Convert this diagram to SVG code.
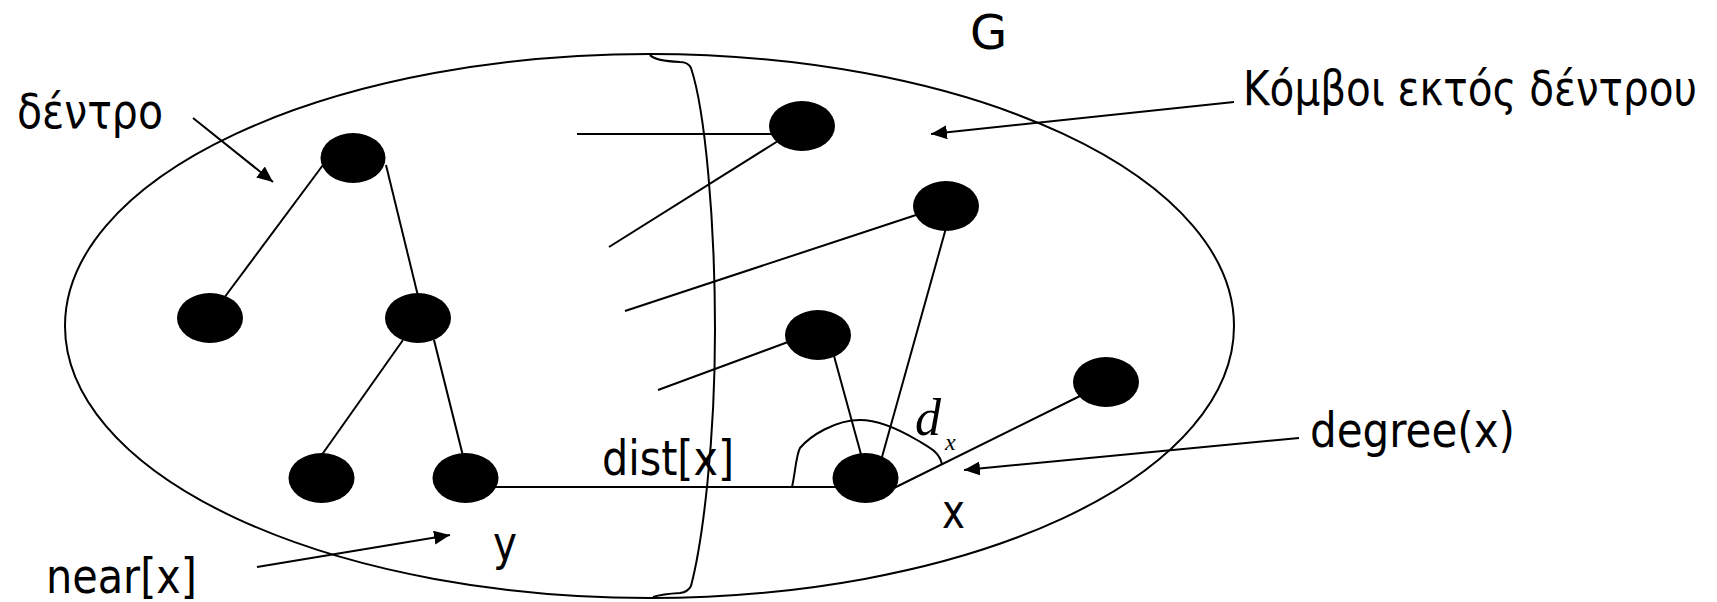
<svg xmlns="http://www.w3.org/2000/svg" width="1717" height="602" viewBox="0 0 1717 602">
  <style>
    .edge { stroke: #000; stroke-width: 2; fill: none; }
    .node { fill: #000; }
    .lbl { font-family: "DejaVu Sans", "Liberation Sans", sans-serif; font-size: 48px; fill: #000; }
    .math { font-family: "Liberation Serif", "DejaVu Serif", serif; font-style: italic; fill: #000; }
  </style>
  <defs>
    <marker id="head" markerUnits="userSpaceOnUse" markerWidth="18" markerHeight="16" refX="16" refY="7" orient="auto">
      <path d="M0,0 L16,7 L0,14 z" fill="#000"/>
    </marker>
  </defs>

  <rect width="1717" height="602" fill="#fff"/>

  <!-- graph boundary G -->
  <g id="graph">
    <ellipse cx="649.5" cy="326" rx="584.5" ry="272" class="edge"/>
    <text class="lbl" x="970" y="49">G</text>
  </g>

  <!-- cut separating tree from remaining vertices -->
  <g id="cut">
    <path class="edge" d="M650,55 Q655,61 680,62 Q688,62 691,68 C705,110 715,220 715,330 C715,440 703,540 691,586 Q688,592 680,593 Q662,594 653,597"/>
  </g>

  <g id="connectors">
    <!-- tree edges -->
    <line class="edge" x1="323" y1="165" x2="224" y2="298"/>
    <line class="edge" x1="386" y1="165" x2="418" y2="296"/>
    <line class="edge" x1="403" y1="340" x2="321" y2="456"/>
    <line class="edge" x1="434" y1="340" x2="463" y2="456"/>
    <!-- y to x -->
    <line class="edge" x1="495" y1="487" x2="840" y2="487"/>
    <!-- edges leaving the outside vertices -->
    <line class="edge" x1="577" y1="134" x2="775" y2="134"/>
    <line class="edge" x1="778" y1="141" x2="609" y2="247"/>
    <line class="edge" x1="916" y1="215" x2="625" y2="311"/>
    <line class="edge" x1="946" y1="228" x2="882" y2="457"/>
    <line class="edge" x1="788" y1="342" x2="658" y2="390"/>
    <line class="edge" x1="834" y1="356" x2="862" y2="458"/>
    <line class="edge" x1="894" y1="488" x2="1080" y2="396"/>
    <!-- d_x arc -->
    <path class="edge" d="M792,487 C795,475 796,455 800,448 C810,436 835,420 860,420 C880,420 900,430 917,440 C930,448 940,452 942,465"/>
    <!-- label pointers -->
    <line class="edge" x1="193" y1="118" x2="273" y2="182" marker-end="url(#head)"/>
    <line class="edge" x1="1234" y1="102" x2="931" y2="134" marker-end="url(#head)"/>
    <line class="edge" x1="1299" y1="438" x2="964" y2="470" marker-end="url(#head)"/>
    <line class="edge" x1="257" y1="567" x2="450" y2="535" marker-end="url(#head)"/>
  </g>

  <!-- tree vertices -->
  <g id="t1"><ellipse class="node" cx="353" cy="158" rx="32.5" ry="25"/></g>
  <g id="t2"><ellipse class="node" cx="210" cy="318" rx="33" ry="25"/></g>
  <g id="t3"><ellipse class="node" cx="418" cy="318" rx="33" ry="25"/></g>
  <g id="t4"><ellipse class="node" cx="321.5" cy="478" rx="33" ry="25"/></g>
  <g id="y"><ellipse class="node" cx="465.5" cy="478" rx="33" ry="25"/></g>

  <!-- vertices outside the tree -->
  <g id="o1"><ellipse class="node" cx="802" cy="126" rx="33" ry="25"/></g>
  <g id="o2"><ellipse class="node" cx="946" cy="206" rx="33" ry="25"/></g>
  <g id="o3"><ellipse class="node" cx="818" cy="335" rx="33" ry="25"/></g>
  <g id="o4"><ellipse class="node" cx="1106" cy="382" rx="33" ry="25"/></g>
  <g id="x"><ellipse class="node" cx="865.5" cy="478" rx="33" ry="25"/></g>

  <!-- labels -->
  <g id="labels">
    <text class="lbl" x="17" y="128" textLength="146" lengthAdjust="spacingAndGlyphs">δέντρο</text>
    <text class="lbl" x="1243" y="105" textLength="454" lengthAdjust="spacingAndGlyphs">Κόμβοι εκτός δέντρου</text>
    <text class="lbl" x="1310" y="447" textLength="205" lengthAdjust="spacingAndGlyphs">degree(x)</text>
    <text class="lbl" x="602" y="475" textLength="132" lengthAdjust="spacingAndGlyphs">dist[x]</text>
    <text class="lbl" x="942" y="528" textLength="23" lengthAdjust="spacingAndGlyphs">x</text>
    <text class="lbl" x="493" y="560" textLength="24" lengthAdjust="spacingAndGlyphs">y</text>
    <text class="lbl" x="46" y="593" textLength="151" lengthAdjust="spacingAndGlyphs">near[x]</text>
    <text class="math" x="915" y="435" font-size="52">d</text>
    <text class="math" x="945" y="450" font-size="24">x</text>
  </g>
</svg>
